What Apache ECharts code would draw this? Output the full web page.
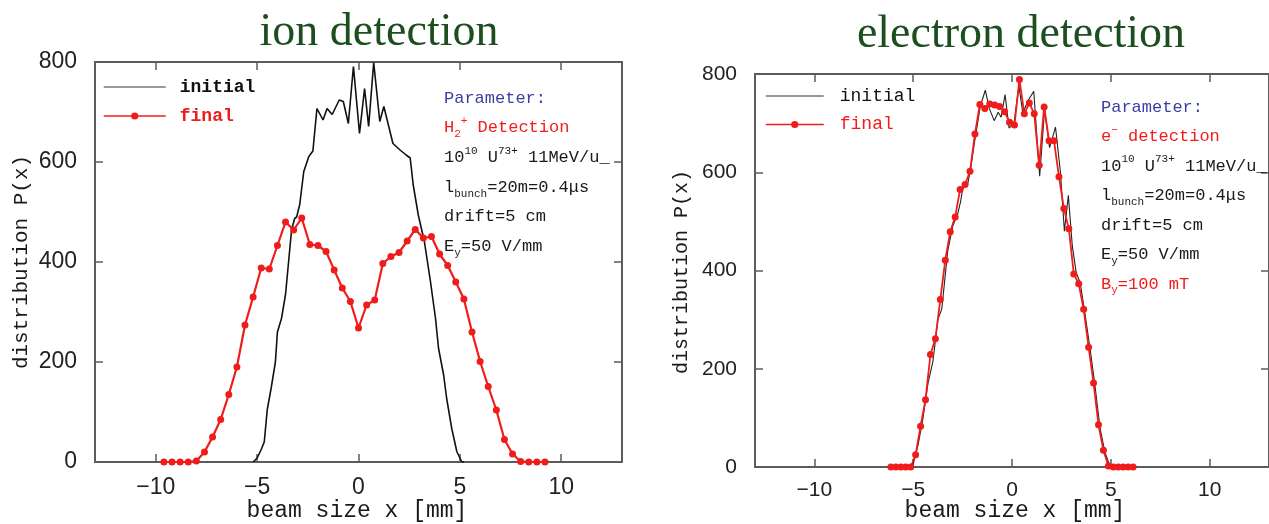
<!DOCTYPE html>
<html><head><meta charset="utf-8">
<script src="https://cdn.jsdelivr.net/npm/echarts@6/dist/echarts.min.js"></script>
<style>html,body{margin:0;padding:0;background:#fff}#c{width:1269px;height:524px}</style>
</head><body><div id="c"></div>
<script>
// ---------- data ----------
const xTickValues = [-10, -5, 0, 5, 10];
const yTickValues = [0, 200, 400, 600, 800];

// ion detection – initial (black)
const ionInitX = [-5.2,-5.0,-4.8,-4.65,-4.5,-4.3,-4.1,-4.0,-3.8,-3.6,-3.45,-3.3,-3.15,-3.05,-2.9,-2.7,-2.45,-2.25,-2.05,-1.75,-1.55,-1.3,-0.95,-0.75,-0.5,-0.25,0.05,0.3,0.5,0.75,1.05,1.25,1.7,2.05,2.35,2.55,2.7,2.95,3.25,3.55,3.8,3.95,4.2,4.35,4.6,4.85,5.1,5.2];
const ionInitY = [0,8,25,40,105,150,200,260,287,335,400,465,487,490,515,581,611,622,707,684,707,695,724,721,677,791,657,747,671,799,681,711,637,624,614,608,554,494,441,361,287,227,174,127,67,21,0,0];

// ion detection – final (red)
const ionFinalX = [-9.6,-9.2,-8.8,-8.4,-8.0,-7.6,-7.2,-6.8,-6.4,-6.0,-5.6,-5.2,-4.8,-4.4,-4.0,-3.6,-3.2,-2.8,-2.4,-2.0,-1.6,-1.2,-0.8,-0.4,0,0.4,0.8,1.2,1.6,2.0,2.4,2.8,3.2,3.6,4.0,4.4,4.8,5.2,5.6,6.0,6.4,6.8,7.2,7.6,8.0,8.4,8.8,9.2];
const ionFinalY = [0,0,0,0,2,20,50,85,135,190,274,330,388,386,433,480,464,488,435,433,421,384,348,321,268,314,324,397,411,419,442,465,448,451,416,393,360,326,260,201,151,104,45,16,1,0,0,0];

// electron detection – initial (black)
const elecInitX = [-5.2,-5.0,-4.75,-4.5,-4.25,-4.0,-3.75,-3.55,-3.25,-3.0,-2.75,-2.6,-2.5,-2.25,-2.1,-1.9,-1.6,-1.35,-1.15,-0.9,-0.7,-0.55,-0.35,-0.15,0.1,0.35,0.55,0.8,1.1,1.4,1.65,1.9,2.2,2.45,2.65,2.85,3.05,3.25,3.45,3.7,3.95,4.2,4.45,4.7,4.95,5.2];
const elecInitY = [0,5,45,100,170,215,300,322,440,490,515,540,566,575,605,660,735,767,730,705,722,712,758,690,700,775,720,745,765,592,728,650,692,600,480,553,450,395,375,310,240,165,80,30,2,0];

// electron detection – final (red)
const elecFinalX = [-6.125,-5.875,-5.625,-5.375,-5.125,-4.875,-4.625,-4.375,-4.125,-3.875,-3.625,-3.375,-3.125,-2.875,-2.625,-2.375,-2.125,-1.875,-1.625,-1.375,-1.125,-0.875,-0.625,-0.375,-0.125,0.125,0.375,0.625,0.875,1.125,1.375,1.625,1.875,2.125,2.375,2.625,2.875,3.125,3.375,3.625,3.875,4.125,4.375,4.625,4.875,5.125,5.375,5.625,5.875,6.125];
const elecFinalY = [0,0,0,0,0,25,83,137,229,261,341,421,479,509,565,575,602,678,738,730,739,737,734,723,702,696,789,719,741,719,614,733,664,664,591,526,485,393,373,321,244,171,86,34,2,0,0,0,0,0];

const seriesNames = ['initial', 'final'];
const titles = ['ion detection', 'electron detection'];
const xTitle = 'beam size x [mm]';
const yTitle = 'distribution P(x)';
const paramsIon = [
  '{b|Parameter:}',
  '{r|H}{rsub|2}{rsup|+}{r| Detection}',
  '{n|10}{sup|10}{n| U}{sup|73+}{n| 11MeV/u_}',
  '{n|l}{sub|bunch}{n|=20m=0.4\u03bcs}',
  '{n|drift=5 cm}',
  '{n|E}{sub|y}{n|=50 V/mm}'
];
const paramsElec = [
  '{b|Parameter:}',
  '{r|e}{rsup|\u2212}{r| detection}',
  '{n|10}{sup|10}{n| U}{sup|73+}{n| 11MeV/u_}',
  '{n|l}{sub|bunch}{n|=20m=0.4\u03bcs}',
  '{n|drift=5 cm}',
  '{n|E}{sub|y}{n|=50 V/mm}',
  '{r|B}{rsub|y}{r|=100 mT}'
];

// ---------- styling / layout ----------
const RED = '#f01c1c';
const BLK = '#111111';
const AX = '#5c5c5c';
const GREEN = '#1d4e1f';
const MONO = 'Liberation Mono';
const pairs = (xs, ys) => xs.map((x, i) => [x, ys[i]]);
const fmtX = v => (v < 0 ? '\u2212' + Math.abs(v) : String(v));

function xAx(grid, pos, labels, fs, margin) {
  return {
    gridIndex: grid, type: 'value', min: -13, max: 13, position: pos,
    axisLine: { show: true, onZero: false, lineStyle: { color: AX, width: 2 } },
    axisTick: { show: true, inside: true, length: 8, customValues: xTickValues, lineStyle: { color: AX, width: 1.5 } },
    axisLabel: { show: labels, customValues: xTickValues, formatter: fmtX, margin: margin, fontSize: fs, fontFamily: 'Liberation Sans', color: '#222' },
    splitLine: { show: false }
  };
}
function yAx(grid, pos, labels, fs, margin) {
  return {
    gridIndex: grid, type: 'value', min: 0, max: 800, interval: 200, position: pos,
    axisLine: { show: true, onZero: false, lineStyle: { color: AX, width: 2 } },
    axisTick: { show: true, inside: true, length: 8, lineStyle: { color: AX, width: 1.5 } },
    axisLabel: { show: labels, margin: margin, fontSize: fs, fontFamily: 'Liberation Sans', color: '#222' },
    splitLine: { show: false }
  };
}

const richStyles = {
  n: { fontFamily: MONO, fontSize: 17, lineHeight: 24, fill: '#1a1a1a', verticalAlign: 'middle' },
  b: { fontFamily: MONO, fontSize: 17, lineHeight: 24, fill: '#3b3fa0', verticalAlign: 'middle' },
  r: { fontFamily: MONO, fontSize: 17, lineHeight: 24, fill: RED, verticalAlign: 'middle' },
  sup: { fontFamily: MONO, fontSize: 11, lineHeight: 11, fill: '#1a1a1a', verticalAlign: 'top' },
  sub: { fontFamily: MONO, fontSize: 11, lineHeight: 11, fill: '#1a1a1a', verticalAlign: 'bottom' },
  rsup: { fontFamily: MONO, fontSize: 11, lineHeight: 11, fill: RED, verticalAlign: 'top' },
  rsub: { fontFamily: MONO, fontSize: 11, lineHeight: 11, fill: RED, verticalAlign: 'bottom' }
};
function paramTexts(lines, x, y0, dy) {
  return lines.map((t, i) => ({
    type: 'text', x: x, y: y0 + i * dy, z: 10,
    style: { text: t, rich: richStyles, align: 'left', verticalAlign: 'middle', font: '17px ' + MONO }
  }));
}

const graphics = [
  { type: 'text', x: 379, y: 33, style: { text: titles[0], font: '46px "Liberation Serif"', fill: GREEN, align: 'center', verticalAlign: 'middle' } },
  { type: 'text', x: 1021, y: 35, style: { text: titles[1], font: '46px "Liberation Serif"', fill: GREEN, align: 'center', verticalAlign: 'middle' } },
  { type: 'text', x: 21, y: 262, rotation: Math.PI / 2, style: { text: yTitle, font: '21px ' + MONO, fill: '#1a1a1a', align: 'center', verticalAlign: 'middle' } },
  { type: 'text', x: 682, y: 272, rotation: Math.PI / 2, style: { text: yTitle, font: '20px ' + MONO, fill: '#1a1a1a', align: 'center', verticalAlign: 'middle' } },
  { type: 'text', x: 357, y: 511, style: { text: xTitle, font: '23px ' + MONO, fill: '#1a1a1a', align: 'center', verticalAlign: 'middle' } },
  { type: 'text', x: 1015, y: 511, style: { text: xTitle, font: '23px ' + MONO, fill: '#1a1a1a', align: 'center', verticalAlign: 'middle' } }
].concat(paramTexts(paramsIon, 444, 98, 29.7), paramTexts(paramsElec, 1101, 107, 29.5));

function legendData() {
  return [
    { name: seriesNames[0], textStyle: { color: BLK }, itemStyle: { opacity: 0 }, lineStyle: { width: 1, color: '#333' } },
    { name: seriesNames[1], textStyle: { color: RED }, lineStyle: { width: 1.5, color: RED } }
  ];
}

const option = {
  animation: false,
  backgroundColor: '#ffffff',
  grid: [
    { left: 95, top: 62, width: 527, height: 400, show: false },
    { left: 755, top: 74, width: 520, height: 393, show: false }
  ],
  xAxis: [ xAx(0, 'bottom', true, 23, 14), xAx(0, 'top', false, 23, 14), xAx(1, 'bottom', true, 21, 13), xAx(1, 'top', false, 21, 13) ],
  yAxis: [ yAx(0, 'left', true, 23, 18), yAx(0, 'right', false, 23, 18), yAx(1, 'left', true, 21, 18), yAx(1, 'right', false, 21, 18) ],
  legend: [
    { orient: 'vertical', left: 103, top: 78, padding: 0, itemWidth: 62, itemHeight: 9, itemGap: 11, selectedMode: false,
      data: legendData(),
      textStyle: { fontFamily: MONO, fontSize: 18, fontWeight: 'bold', padding: [0, 0, 0, 9] } },
    { orient: 'vertical', left: 765, top: 87, padding: 0, itemWidth: 58, itemHeight: 9, itemGap: 10.5, selectedMode: false,
      data: legendData(),
      textStyle: { fontFamily: MONO, fontSize: 18, padding: [0, 0, 0, 11] } }
  ],
  series: [
    { name: seriesNames[0], type: 'line', xAxisIndex: 0, yAxisIndex: 0, data: pairs(ionInitX, ionInitY), symbol: 'none',
      lineStyle: { color: BLK, width: 1.6 }, itemStyle: { color: BLK }, z: 2 },
    { name: seriesNames[1], type: 'line', xAxisIndex: 0, yAxisIndex: 0, data: pairs(ionFinalX, ionFinalY), symbol: 'circle', symbolSize: 7, showAllSymbol: true,
      lineStyle: { color: RED, width: 2.2 }, itemStyle: { color: RED }, z: 3 },
    { name: seriesNames[0], type: 'line', xAxisIndex: 2, yAxisIndex: 2, data: pairs(elecInitX, elecInitY), symbol: 'none',
      lineStyle: { color: '#222', width: 1.1 }, itemStyle: { color: '#222' }, z: 2 },
    { name: seriesNames[1], type: 'line', xAxisIndex: 2, yAxisIndex: 2, data: pairs(elecFinalX, elecFinalY), symbol: 'circle', symbolSize: 7, showAllSymbol: true,
      lineStyle: { color: RED, width: 1.8 }, itemStyle: { color: RED }, z: 3 }
  ],
  graphic: graphics
};
const chart = echarts.init(document.getElementById('c'));
chart.setOption(option);
</script>
</body></html>
